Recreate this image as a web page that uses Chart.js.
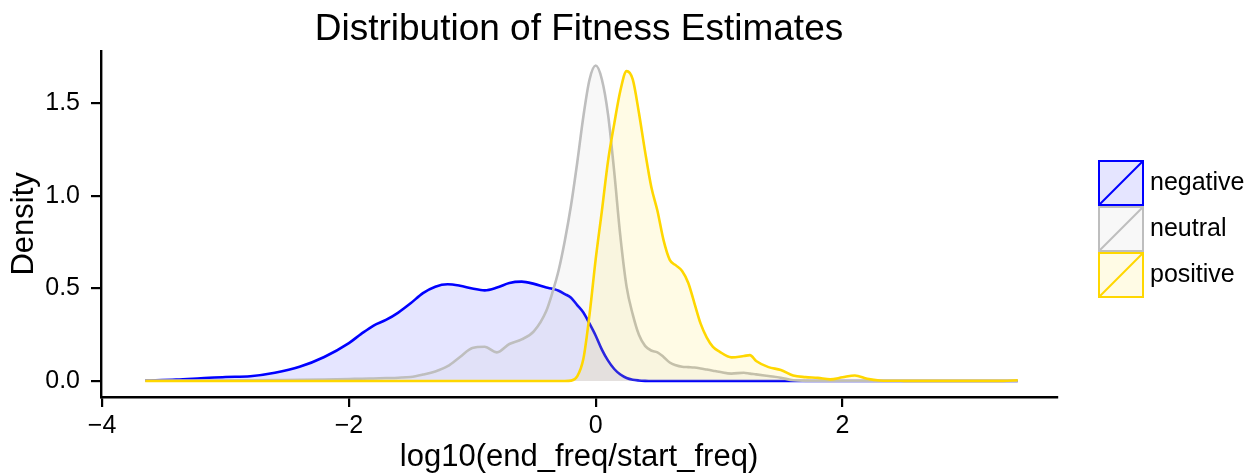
<!DOCTYPE html>
<html>
<head>
<meta charset="utf-8">
<script src="https://cdn.jsdelivr.net/npm/chart.js@4/dist/chart.umd.min.js"></script>
<style>
  html, body { margin: 0; padding: 0; background: #ffffff; }
  #wrap { width: 1260px; height: 474px; }
</style>
</head>
<body>
<div id="wrap"><canvas id="c" width="1260" height="474"></canvas></div>
<script>
// ---- data ----
const chartTitle = "Distribution of Fitness Estimates";
const xTitle = "log10(end_freq/start_freq)";
const yTitle = "Density";
const seriesNames = ["negative", "neutral", "positive"];
const xTicks = [-4, -2, 0, 2];
const yTicks = [0, 0.5, 1.0, 1.5];

const xGrid = [-3.65, -3.4, -3.2, -3.0, -2.8, -2.6, -2.4, -2.2, -2.0, -1.9,
  -1.8, -1.7, -1.6, -1.5, -1.4, -1.3, -1.2, -1.1, -1.0, -0.9,
  -0.8, -0.7, -0.6, -0.5, -0.4, -0.35, -0.3, -0.25, -0.2, -0.15,
  -0.1, -0.05, 0, 0.05, 0.1, 0.15, 0.2, 0.25, 0.3, 0.35,
  0.4, 0.45, 0.5, 0.55, 0.6, 0.65, 0.7, 0.75, 0.8, 0.85,
  0.9, 0.95, 1.0, 1.1, 1.2, 1.25, 1.3, 1.4, 1.5, 1.6,
  1.7, 1.8, 1.9, 2.0, 2.1, 2.2, 2.3, 2.5, 2.8, 3.1,
  3.3, 3.42];

const negative = [0.003, 0.008, 0.015, 0.022, 0.026, 0.045, 0.077, 0.13, 0.205, 0.255,
  0.30, 0.33, 0.37, 0.42, 0.475, 0.51, 0.523, 0.515, 0.50, 0.49,
  0.505, 0.53, 0.537, 0.525, 0.505, 0.498, 0.488, 0.47, 0.45, 0.41,
  0.37, 0.31, 0.245, 0.17, 0.11, 0.065, 0.035, 0.016, 0.007, 0.003,
  0.001, 0, 0, 0, 0, 0, 0, 0, 0, 0,
  0, 0, 0, 0, 0, 0, 0, 0, 0, 0,
  0, 0, 0, 0, 0, 0, 0, 0, 0, 0,
  0, 0];

const neutral = [0.002, 0.002, 0.003, 0.003, 0.004, 0.005, 0.006, 0.008, 0.011, 0.012,
  0.014, 0.016, 0.018, 0.022, 0.035, 0.052, 0.08, 0.13, 0.178, 0.185,
  0.155, 0.2, 0.225, 0.27, 0.38, 0.48, 0.6, 0.76, 0.95, 1.18,
  1.43, 1.63, 1.705, 1.63, 1.44, 1.13, 0.78, 0.51, 0.36, 0.25,
  0.19, 0.165, 0.155, 0.13, 0.10, 0.085, 0.077, 0.075, 0.073, 0.068,
  0.062, 0.056, 0.05, 0.04, 0.045, 0.04, 0.036, 0.027, 0.018, 0.004,
  0.001, 0, 0, 0, 0, 0, 0, 0, 0, 0,
  0, 0];

const positive = [0, 0, 0, 0, 0, 0, 0, 0, 0, 0,
  0, 0, 0, 0, 0, 0, 0, 0, 0, 0,
  0, 0, 0, 0, 0, 0, 0, 0, 0.002, 0.025,
  0.12, 0.36, 0.66, 0.92, 1.19, 1.39, 1.57, 1.675, 1.63, 1.45,
  1.24, 1.05, 0.92, 0.76, 0.655, 0.625, 0.595, 0.53, 0.42, 0.31,
  0.235, 0.185, 0.16, 0.128, 0.135, 0.14, 0.108, 0.075, 0.06, 0.03,
  0.021, 0.017, 0.009, 0.02, 0.03, 0.012, 0.003, 0.001, 0.0005, 0.0005,
  0.0005, 0.004];

const lineColors = ["#0000FF", "#BEBEBE", "#FFD700"];
const fillColors = ["rgba(0,0,255,0.1)", "rgba(190,190,190,0.1)", "rgba(255,215,0,0.1)"];

const FONT = "'Liberation Sans', Arial, Helvetica, sans-serif";
Chart.defaults.font.family = FONT;
Chart.defaults.color = "#000000";

function pts(ys) { return xGrid.map((x, i) => ({ x: x, y: ys[i] })); }
const seriesValues = [negative, neutral, positive];

const datasets = seriesNames.map((name, i) => ({
  label: name,
  data: pts(seriesValues[i]),
  borderColor: lineColors[i],
  backgroundColor: fillColors[i],
  borderWidth: 2.6,
  pointRadius: 0,
  fill: 'origin',
  cubicInterpolationMode: 'monotone',
  order: 3 - i
}));

// legend drawn to the right of the panel, ggplot style keys
const keyLegend = {
  id: 'keyLegend',
  afterDraw(chart) {
    const ctx = chart.ctx;
    const ca = chart.chartArea;
    const bx = ca.right + 41, by = 160, bw = 46, bh = 46;
    ctx.save();
    seriesNames.forEach((name, i) => {
      const y = by + i * bh;
      ctx.fillStyle = '#ffffff';
      ctx.fillRect(bx, y, bw, bh);
      ctx.fillStyle = fillColors[i];
      ctx.fillRect(bx, y, bw, bh);
      ctx.strokeStyle = lineColors[i];
      ctx.lineWidth = 2;
      ctx.strokeRect(bx + 1, y + 1, bw - 2, bh - 2);
      ctx.beginPath();
      ctx.moveTo(bx + 1, y + bh - 1);
      ctx.lineTo(bx + bw - 1, y + 1);
      ctx.stroke();
      ctx.fillStyle = '#000000';
      ctx.font = "25px " + FONT;
      ctx.textBaseline = 'middle';
      ctx.textAlign = 'left';
      ctx.fillText(name, bx + bw + 6, y + bh / 2);
    });
    ctx.restore();
  }
};

function fmtX(v) { return v < 0 ? '\u2212' + Math.abs(v) : String(v); }

new Chart(document.getElementById('c'), {
  type: 'line',
  data: { datasets: datasets },
  options: {
    responsive: false,
    devicePixelRatio: 1,
    animation: false,
    layout: { padding: { left: 0, right: 203, top: 0, bottom: 0 } },
    plugins: {
      legend: { display: false },
      tooltip: { enabled: false },
      title: {
        display: true,
        text: chartTitle,
        fullSize: false,
        color: '#000000',
        font: { size: 37, weight: 'normal', lineHeight: 1.1 },
        padding: { top: 9, bottom: 1 }
      }
    },
    scales: {
      x: {
        type: 'linear',
        min: -4.009,
        max: 3.738,
        afterBuildTicks: (s) => { s.ticks = xTicks.map(v => ({ value: v })); },
        afterFit: (s) => { s.height = 77; },
        ticks: { font: { size: 25 }, color: '#000000', padding: 4, maxRotation: 0, autoSkip: false, callback: (v) => fmtX(v) },
        grid: { display: true, drawOnChartArea: false, drawTicks: true, tickLength: 10, color: '#000000', lineWidth: 2.2 },
        border: { display: true, color: '#000000', width: 2.4 },
        title: { display: true, text: xTitle, color: '#000000', font: { size: 31, lineHeight: 1 }, padding: { top: 0, bottom: 1 } }
      },
      y: {
        type: 'linear',
        min: -0.0864,
        max: 1.7854,
        afterBuildTicks: (s) => { s.ticks = yTicks.map(v => ({ value: v })); },
        afterFit: (s) => { s.width = 101; },
        ticks: { font: { size: 25 }, color: '#000000', padding: 11, callback: (v) => Number(v).toFixed(1) },
        grid: { display: true, drawOnChartArea: false, drawTicks: true, tickLength: 10, color: '#000000', lineWidth: 2.2 },
        border: { display: true, color: '#000000', width: 2.4 },
        title: { display: true, text: yTitle, color: '#000000', font: { size: 31, lineHeight: 1.2 }, padding: { top: 6, bottom: 0 } }
      }
    }
  },
  plugins: [keyLegend]
});
</script>
</body>
</html>
